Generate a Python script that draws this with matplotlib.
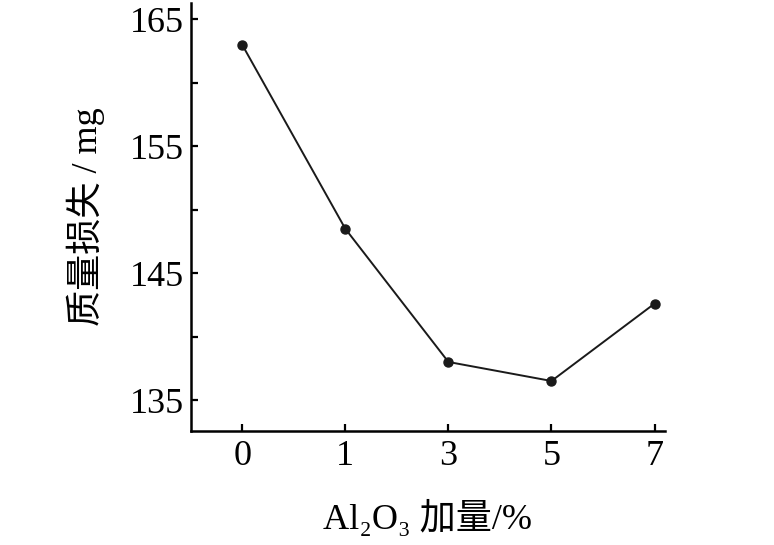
import numpy as np
import matplotlib
matplotlib.use('Agg')
import matplotlib.pyplot as plt

# data
al2o3 = ['0', '1', '3', '5', '7']
mass_loss = [163.0, 148.5, 138.0, 136.5, 142.6]
y_ticks = [135, 145, 155, 165]

plt.rcParams['font.family'] = ['Liberation Serif', 'Noto Sans CJK SC']

fig = plt.figure(figsize=(7.74, 5.45), dpi=100)
ax = fig.add_axes([0.2464, 0.2097, 0.6126, 0.7848])

x = np.arange(len(al2o3))
ax.plot(x, mass_loss, color='#1a1a1a', linewidth=1.4, marker='o', markersize=6.5)

ax.set_xlim(-0.5, 4.1)
ax.set_ylim(132.58, 166.3)
ax.set_xticks(x)
ax.set_xticklabels(al2o3)
ax.set_yticks(y_ticks)
ax.set_yticks([140, 150, 160], minor=True)

for s in ['top', 'right']:
    ax.spines[s].set_visible(False)
for s in ['left', 'bottom']:
    ax.spines[s].set_linewidth(1.8)

ax.tick_params(axis='both', which='both', direction='in', length=5, width=1.6, labelsize=26)
ax.tick_params(axis='y', pad=5)
ax.tick_params(axis='x', pad=7)
ax.tick_params(axis='y', which='minor', labelleft=False)

ax.set_xlabel('Al₂O₃ 加量/%', fontsize=26, labelpad=19)
ax.set_ylabel('质量损失 / mg', fontsize=26, labelpad=18)

fig.savefig('out.png', dpi=100)
